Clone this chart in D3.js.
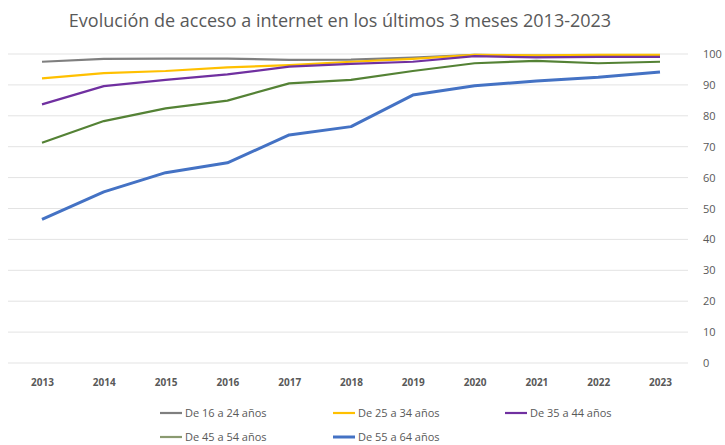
<!DOCTYPE html>
<html>
<head>
<meta charset="utf-8">
<script src="https://cdn.jsdelivr.net/npm/d3@7"></script>
<style>
  body { margin: 0; background: #fff; }
  text { font-family: "Open Sans", "Noto Sans", sans-serif; }
</style>
</head>
<body>
<div id="chart"></div>
<script>
var years = ["2013","2014","2015","2016","2017","2018","2019","2020","2021","2022","2023"];
var yTicks = [0,10,20,30,40,50,60,70,80,90,100];

var names = ["De 16 a 24 años","De 25 a 34 años","De 35 a 44 años","De 45 a 54 años","De 55 a 64 años"];
var colors = ["#7f7f7f","#ffc000","#7030a0","#548235","#4472c4"];
var widths = [2.2, 2.2, 2.2, 2.2, 3];

var v16 = [97.5, 98.4, 98.5, 98.5, 98.1, 98.2, 98.8, 99.7, 99.5, 99.4, 99.5];
var v25 = [92.1, 93.8, 94.5, 95.7, 96.4, 97.5, 98.4, 99.7, 99.6, 99.7, 99.7];
var v35 = [83.7, 89.6, 91.6, 93.4, 95.9, 96.8, 97.5, 99.3, 98.9, 99.1, 99.1];
var v45 = [71.3, 78.3, 82.4, 84.9, 90.5, 91.6, 94.5, 97.0, 97.8, 97.0, 97.5];
var v55 = [46.5, 55.4, 61.6, 64.8, 73.8, 76.5, 86.7, 89.7, 91.3, 92.5, 94.2];
var series = [v16, v25, v35, v45, v55];

var width = 725, height = 445;

var svg = d3.select("#chart").append("svg")
  .attr("width", width)
  .attr("height", height);

// title
svg.append("text")
  .attr("x", 340)
  .attr("y", 27)
  .attr("text-anchor", "middle")
  .style("font-size", "18px")
  .style("fill", "#595959")
  .text("Evolución de acceso a internet en los últimos 3 meses 2013-2023");

var x = d3.scalePoint()
  .domain(years)
  .range([42, 660]);

var y = d3.scaleLinear()
  .domain([0, 100])
  .range([363, 54]);

// gridlines
svg.append("g")
  .selectAll("line")
  .data(yTicks)
  .enter()
  .append("line")
  .attr("x1", 8)
  .attr("x2", 688)
  .attr("y1", function(d){ return y(d); })
  .attr("y2", function(d){ return y(d); })
  .style("stroke", "#e3e3e3")
  .style("stroke-width", 1);

// right axis
var yAxis = svg.append("g")
  .attr("transform", "translate(697,0)")
  .call(d3.axisRight(y).tickValues(yTicks).tickSize(0).tickPadding(6));
yAxis.select(".domain").remove();
yAxis.selectAll("text")
  .style("font-size", "11px")
  .style("fill", "#595959")
  .style("font-family", "\"Open Sans\", sans-serif");

// bottom axis
var xAxis = svg.append("g")
  .attr("transform", "translate(0,374)")
  .call(d3.axisBottom(x).tickSize(0).tickPadding(5));
xAxis.select(".domain").remove();
xAxis.selectAll("text")
  .style("font-size", "10px")
  .style("font-weight", "bold")
  .style("fill", "#595959")
  .style("font-family", "\"Open Sans\", sans-serif");

var line = d3.line()
  .x(function(d, i){ return x(years[i]); })
  .y(function(d){ return y(d); });

// draw order: blue and green under, then gray, yellow, purple on top
var order = [4, 3, 0, 1, 2];
order.forEach(function(k){
  svg.append("path")
    .datum(series[k])
    .attr("d", line)
    .style("fill", "none")
    .style("stroke", colors[k])
    .style("stroke-width", widths[k])
    .style("stroke-linejoin", "round");
});

// legend
var legendPos = [[160, 413], [333, 413], [505, 413], [160, 437], [333, 437]];
var legend = svg.append("g")
  .selectAll("g")
  .data(names)
  .enter()
  .append("g")
  .attr("transform", function(d, i){ return "translate(" + legendPos[i][0] + "," + legendPos[i][1] + ")"; });

legend.append("line")
  .attr("x1", 0)
  .attr("x2", 22)
  .style("stroke", function(d, i){ return i === 3 ? "#8a9a70" : colors[i]; })
  .style("stroke-width", function(d, i){ return widths[i]; });

legend.append("text")
  .attr("x", 25)
  .attr("y", 4)
  .style("font-size", "11px")
  .style("fill", "#595959")
  .text(function(d){ return d; });
</script>
</body>
</html>
